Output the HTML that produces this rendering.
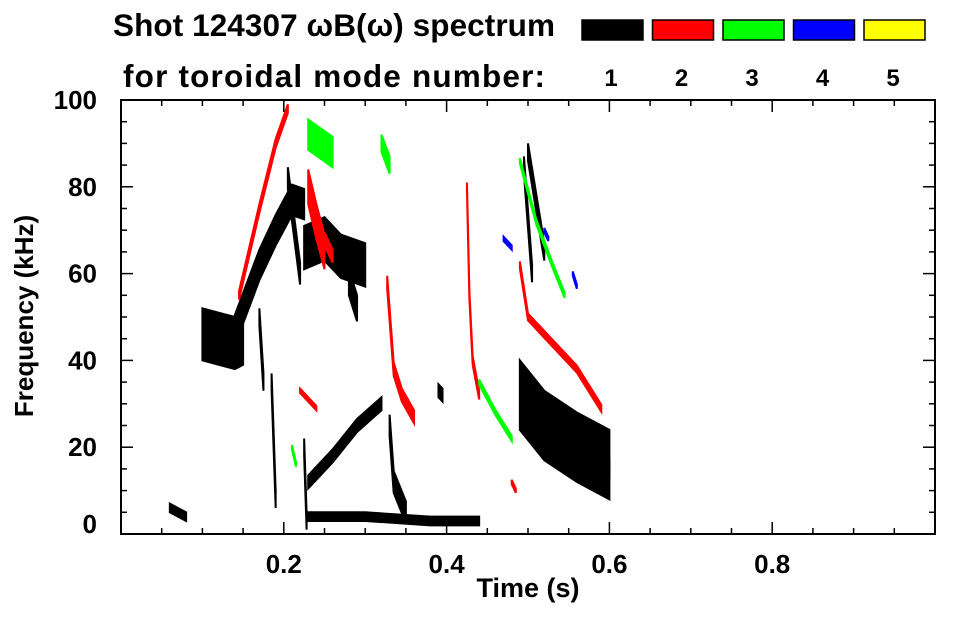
<!DOCTYPE html>
<html><head><meta charset="utf-8"><style>
body{margin:0;background:#fff;width:963px;height:615px;overflow:hidden;font-family:"Liberation Sans",sans-serif}
svg text{font-family:"Liberation Sans",sans-serif;font-weight:bold;fill:#000}
</style></head><body>
<svg id="c" width="963" height="615">
<text x="113" y="36" font-size="31.5" textLength="442">Shot 124307 ωB(ω) spectrum</text>
<text x="123" y="87" font-size="31.5" textLength="422">for toroidal mode number:</text>
<g id="legend"></g>
<g id="marks"></g>
<g id="axes"></g>
<text x="528" y="597" font-size="27" text-anchor="middle">Time (s)</text>
<text transform="translate(33,316) rotate(-90)" font-size="26" text-anchor="middle">Frequency (kHz)</text>
</svg>
<script>
const modeLabels=["1","2","3","4","5"];
const modeColors=["#000","#f00","#0f0","#00f","#ff0"];
const xTicks=[0.2,0.4,0.6,0.8];
const yTicks=[0,20,40,60,80,100];
// features: mode index, times (s), freqs (kHz), band height (kHz)
const featMode=[0,0,0,0,0,0,0,0,0,0,0,0,0,0,0,0,0, 1,1,1,1,1,1,1,1, 2,2,2,2,2, 3,3,3];
const featT=[
[0.10,0.12,0.14,0.15],[0.13,0.15,0.17,0.19,0.21,0.225],[0.225,0.25,0.27,0.30],[0.185,0.19],[0.225,0.228],
[0.23,0.26,0.29,0.32],[0.23,0.30,0.38,0.44],[0.33,0.335,0.35],[0.39,0.395],[0.49,0.52,0.56,0.60],
[0.495,0.505],[0.50,0.52],[0.06,0.08],[0.17,0.175],[0.28,0.29],[0.55,0.60],[0.205,0.22],
[0.145,0.17,0.19,0.205],[0.23,0.24,0.25],[0.327,0.335,0.345,0.36],[0.425,0.428,0.432,0.44],[0.49,0.50,0.53,0.56,0.59],[0.25,0.26],[0.22,0.24],[0.48,0.485],
[0.23,0.245,0.26],[0.32,0.33],[0.49,0.51,0.53,0.545],[0.44,0.46,0.48],[0.21,0.215],
[0.47,0.48],[0.52,0.525],[0.555,0.56]];
const featF=[
[46,45,44,45],[42,52,62,70,77,76],[66,68,64,62],[35,8],[20,3],
[12,18,25,30],[4,4,3,3],[25,12,5],[33,32],[32,25,20,16],
[85,60],[88,65],[6,4],[50,35],[58,52],[16,15],[82,60],
[55,75,90,98],[80,72,65],[58,38,32,27],[80,55,40,32],[62,50,44,38,29],[68,64],[33,29],[12,10],
[92,90,88],[90,85],[86,72,62,55],[35,28,22],[20,16],
[68,66],[70,68],[60,57]];
const featH=[12,7,10,4,4, 3,2,5,3,16, 4,4,2,4,6,4,5, 2,8,3,2,1.6,3,1,1, 7,4,1.2,1.2,1, 1,1,1];
const X0=121,X1=935,Y0=534,Y1=100;
const xs=t=>X0+(t-0)/(1-0)*(X1-X0);
const ys=f=>Y0-(f-0)/(100-0)*(Y0-Y1);
const NS="http://www.w3.org/2000/svg";
function mk(tag,attrs,parent){const e=document.createElementNS(NS,tag);for(const k in attrs)e.setAttribute(k,attrs[k]);parent.appendChild(e);return e;}
const leg=document.getElementById('legend');
modeLabels.forEach((m,i)=>{
 const x=582+i*70.5;
 const r=mk('rect',{x:x,y:20,width:61,height:20,fill:modeColors[i],stroke:'#000','stroke-width':1.5},leg);
 
 
 const t=mk('text',{x:x+29,y:86,'font-size':24,'text-anchor':'middle'},leg);t.textContent=m;
 
 
});
const marks=document.getElementById('marks');
featT.forEach((ts,i)=>{
 const fs=featF[i],h=featH[i];
 const up=ts.map((t,j)=>xs(t)+','+ys(fs[j]+h/2));
 const dn=ts.map((t,j)=>xs(t)+','+ys(fs[j]-h/2)).reverse();
 const p=mk('polygon',{points:up.concat(dn).join(' '),fill:modeColors[featMode[i]],stroke:modeColors[featMode[i]],'stroke-width':2},marks);
 
 
});
const ax=document.getElementById('axes');
const fr=mk('rect',{x:X0,y:Y1,width:X1-X0,height:Y0-Y1,fill:'none',stroke:'#000','stroke-width':2},ax);


for(let t=0.05;t<1;t+=0.05){const x=xs(t);const maj=Math.abs(t*10-Math.round(t*10))<1e-6&&Math.round(t*10)%2==0;const L=maj?12:6;
 mk('line',{x1:x,x2:x,y1:Y0,y2:Y0-L,stroke:'#000','stroke-width':1.5},ax);mk('line',{x1:x,x2:x,y1:Y1,y2:Y1+L,stroke:'#000','stroke-width':1.5},ax);}
for(let f=5;f<100;f+=5){const y=ys(f);const L=f%20==0?12:6;
 mk('line',{x1:X0,x2:X0+L,y1:y,y2:y,stroke:'#000','stroke-width':1.5},ax);mk('line',{x1:X1,x2:X1-L,y1:y,y2:y,stroke:'#000','stroke-width':1.5},ax);}
xTicks.forEach(t=>{const e=mk('text',{x:xs(t),y:573,'font-size':26,'text-anchor':'middle'},ax);e.textContent=t.toFixed(1);
 
 });
yTicks.forEach(f=>{const e=mk('text',{x:97,y:Math.min(ys(f)+9,533),'font-size':26,'text-anchor':'end'},ax);e.textContent=f;
 
 });
</script>
</body></html>
